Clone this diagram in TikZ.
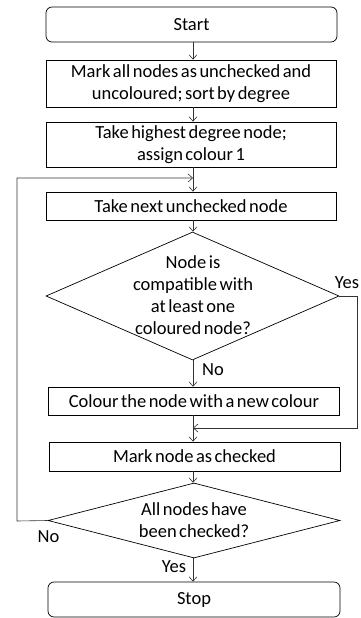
\documentclass[tikz,border=0pt]{standalone}
\usepackage{fontspec}
\setmainfont{Carlito}[WordSpace=0.6]
\usetikzlibrary{shapes.geometric,arrows.meta}
\begin{document}
\begin{tikzpicture}[x=1pt,y=-1pt,
  every node/.style={font=\fontsize{18.5}{22}\selectfont},
  box/.style={draw=black,line width=0.7pt,rectangle,inner sep=0pt,align=center},
  term/.style={box,rounded corners=6pt},
  dia/.style={draw=black,line width=0.7pt,diamond,inner sep=0pt},
  txt/.style={align=center,inner sep=0pt},
  lbl/.style={inner sep=0pt},
  conn/.style={draw=black!80,line width=0.6pt},
  arr/.style={conn,-{Straight Barb[length=4.5pt,width=8pt]}}]
\useasboundingbox (0,0) rectangle (360,618);
\node[term,minimum width=291,minimum height=35] (start) at (191.5,24.5) {Start};
\node[box,minimum width=290,minimum height=47] (mark) at (191,83.5) {Mark all nodes as unchecked and\\uncoloured; sort by degree};
\node[box,minimum width=290,minimum height=45] (take) at (191,144.5) {Take highest degree node;\\assign colour 1};
\node[box,minimum width=290,minimum height=28] (next) at (191,206) {Take next unchecked node};
\node[dia,minimum width=293,minimum height=128] (d1) at (192.5,296) {};
\node[txt] (d1t) at (193,295) {Node is\\compatible with\\at least one\\coloured node?};
\node[box,minimum width=291,minimum height=28] (colour) at (194,401) {Colour the node with a new colour};
\node[box,minimum width=291,minimum height=29] (checked) at (194.5,456.5) {Mark node as checked};
\node[dia,minimum width=292,minimum height=75] (d2) at (194,520.5) {};
\node[txt] (d2t) at (194,520.5) {All nodes have\\been checked?};
\node[term,minimum width=292,minimum height=35] (stop) at (194,599.5) {Stop};

\coordinate (j1) at (193,178);
\coordinate (j2) at (193,428);
\coordinate (ly) at (357,296);
\coordinate (lx) at (17,521);

\draw[arr] (start.south -| 193,0) -- (mark.north -| 193,0);
\draw[arr] (mark.south -| 193,0) -- (take.north -| 193,0);
\draw[arr] (take.south -| 193,0) -- (next.north -| 193,0);
\draw[arr] (next.south -| 193,0) -- (d1.north -| 193,0);
\draw[arr] (d1.south -| 193,0) -- (colour.north -| 193,0);
\draw[arr] (colour.south -| 193,0) -- (checked.north -| 193,0);
\draw[arr] (checked.south -| 193,0) -- (d2.north -| 193,0);
\draw[arr] (d2.south -| 193,0) -- (stop.north -| 193,0);

\draw[arr] (d1.east) -- (ly) -- (ly |- j2) -- (j2);
\draw[arr] (d2.west) -- (lx) -- (lx |- j1) -- (j1);

\node[lbl] (yes1) at (347,283) {Yes};
\node[lbl] (no1) at (213,370) {No};
\node[lbl] (no2) at (48.5,537) {No};
\node[lbl] (yes2) at (174,567) {Yes};
\end{tikzpicture}
\end{document}
